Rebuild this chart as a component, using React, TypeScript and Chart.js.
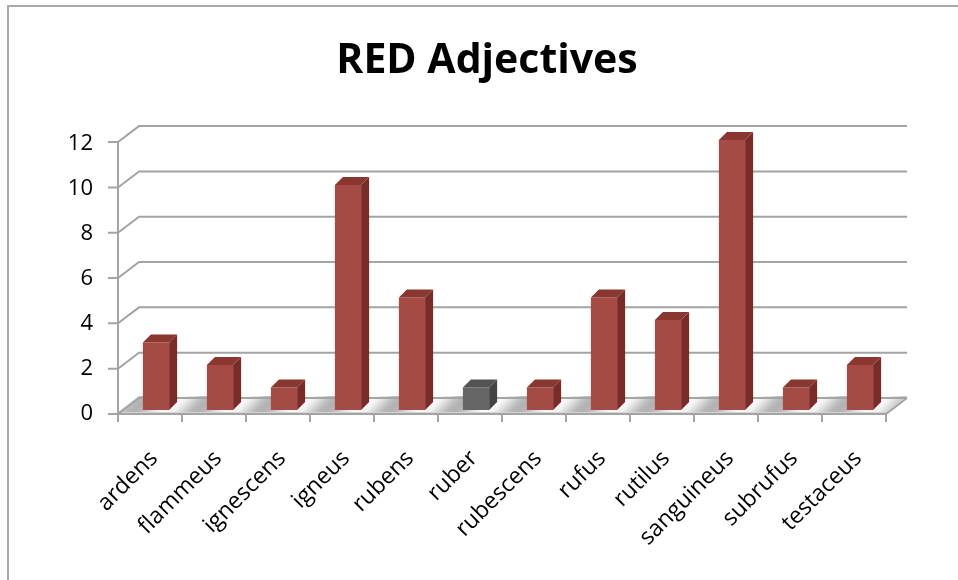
import React, { useEffect, useRef } from "react";
import { Chart, registerables } from "chart.js";

Chart.register(...registerables);

// ---- data ----
const TITLE = "RED Adjectives";
const categories = [
  "ardens", "flammeus", "ignescens", "igneus", "rubens", "ruber",
  "rubescens", "rufus", "rutilus", "sanguineus", "subrufus", "testaceus",
];
const counts = [3, 2, 1, 10, 5, 1, 1, 5, 4, 12, 1, 2];
const yTicks = [0, 2, 4, 6, 8, 10, 12];
const highlighted = "ruber";

// ---- styles / geometry ----
const FRONT = { dx: -6, dy: 4 }; // front plane relative to bar plane
const DEPTH = { dx: 21, dy: -16 }; // depth of walls / floor
const BAR_DEPTH = { dx: 8, dy: -8 };
const FRONT_SCALE = 1.007;
const RED = { front: "#A64A45", side: "#772C29", top: "#8A3631" };
const GRAY = { front: "#666666", side: "#444444", top: "#535353" };
const GRID = "#A4A4A4";
const FONT = '"Open Sans", "DejaVu Sans", sans-serif';

function makeFloorPattern(ctx: CanvasRenderingContext2D) {
  const size = 64;
  const c = document.createElement("canvas");
  c.width = size;
  c.height = size;
  const g = c.getContext("2d")!;
  const img = g.createImageData(size, size);
  for (let py = 0; py < size; py++) {
    for (let px = 0; px < size; px++) {
      const t = ((px + py) % size) / size;
      const k = 0.5 + 0.5 * Math.cos(2 * Math.PI * t);
      const v = Math.round(178 + (252 - 178) * k);
      const i = (py * size + px) * 4;
      img.data[i] = v;
      img.data[i + 1] = v;
      img.data[i + 2] = v;
      img.data[i + 3] = 255;
    }
  }
  g.putImageData(img, 0, 0);
  return ctx.createPattern(c, "repeat");
}

const scenePlugin = {
  id: "scene3d",
  beforeDraw(chart: any) {
    const { ctx, chartArea: a } = chart;
    const xs = chart.scales.x;
    const ys = chart.scales.y;
    const fy = (v: number) =>
      a.bottom + FRONT.dy - (a.bottom - ys.getPixelForValue(v)) * FRONT_SCALE;
    const left = a.left + FRONT.dx;
    const right = a.right + FRONT.dx;

    ctx.save();
    // outer frame
    ctx.fillStyle = "#A9A9A9";
    ctx.fillRect(7, 5, chart.width - 7, 2);
    ctx.fillRect(7, 5, 2, chart.height - 5);

    // title
    ctx.fillStyle = "#000";
    ctx.font = `bold 41px ${FONT}`;
    ctx.textAlign = "center";
    ctx.textBaseline = "middle";
    ctx.fillText(TITLE, 487, 61);

    // floor
    const y0 = fy(0);
    ctx.fillStyle = makeFloorPattern(ctx) as any;
    ctx.beginPath();
    ctx.moveTo(left, y0 - 2);
    ctx.lineTo(left + DEPTH.dx, y0 - 2 + DEPTH.dy);
    ctx.lineTo(right + DEPTH.dx, y0 - 2 + DEPTH.dy);
    ctx.lineTo(right, y0 - 2);
    ctx.closePath();
    ctx.fill();
    ctx.fillStyle = "#D4D4D4";
    ctx.beginPath();
    ctx.moveTo(left, y0 - 2);
    ctx.lineTo(right, y0 - 2);
    ctx.lineTo(right + DEPTH.dx, y0 - 2 + DEPTH.dy);
    ctx.lineTo(right + DEPTH.dx, y0 + DEPTH.dy);
    ctx.lineTo(right, y0);
    ctx.lineTo(left, y0);
    ctx.closePath();
    ctx.fill();

    // gridlines (front tick + diagonal + back wall line)
    ctx.strokeStyle = GRID;
    ctx.lineWidth = 2;
    for (const v of yTicks) {
      const yy = fy(v);
      ctx.beginPath();
      ctx.moveTo(left - 10, yy);
      ctx.lineTo(left, yy);
      ctx.lineTo(left + DEPTH.dx, yy + DEPTH.dy);
      ctx.lineTo(right + DEPTH.dx, yy + DEPTH.dy);
      ctx.stroke();
    }
    // floor outline front + right
    ctx.beginPath();
    ctx.moveTo(left, y0);
    ctx.lineTo(right, y0);
    ctx.lineTo(right + DEPTH.dx, y0 + DEPTH.dy);
    ctx.stroke();

    // vertical axis
    ctx.beginPath();
    ctx.moveTo(left, fy(yTicks[yTicks.length - 1]));
    ctx.lineTo(left, y0);
    ctx.stroke();

    // category tick marks
    for (let i = 0; i <= categories.length; i++) {
      const px = xs.getPixelForValue(i - 0.5) + FRONT.dx;
      ctx.beginPath();
      ctx.moveTo(px, y0);
      ctx.lineTo(px, y0 + 8);
      ctx.stroke();
    }
    ctx.restore();
  },
  afterDatasetsDraw(chart: any) {
    const { ctx } = chart;
    const meta = chart.getDatasetMeta(0);
    ctx.save();
    meta.data.forEach((el: any, i: number) => {
      const { x, y, base, width } = el.getProps(["x", "y", "base", "width"], true);
      const l = x - width / 2;
      const r = x + width / 2;
      const col = categories[i] === highlighted ? GRAY : RED;
      // side face
      ctx.fillStyle = col.side;
      ctx.beginPath();
      ctx.moveTo(r, y);
      ctx.lineTo(r + BAR_DEPTH.dx, y + BAR_DEPTH.dy);
      ctx.lineTo(r + BAR_DEPTH.dx, base + BAR_DEPTH.dy);
      ctx.lineTo(r, base);
      ctx.closePath();
      ctx.fill();
      // top face
      ctx.fillStyle = col.top;
      ctx.beginPath();
      ctx.moveTo(l, y);
      ctx.lineTo(l + BAR_DEPTH.dx, y + BAR_DEPTH.dy);
      ctx.lineTo(r + BAR_DEPTH.dx, y + BAR_DEPTH.dy);
      ctx.lineTo(r, y);
      ctx.closePath();
      ctx.fill();
    });
    ctx.restore();
  },
};

export default function App() {
  const ref = useRef<HTMLCanvasElement | null>(null);

  useEffect(() => {
    if (!ref.current) return;
    const chart = new Chart(ref.current, {
      type: "bar",
      data: {
        labels: categories,
        datasets: [
          {
            label: TITLE,
            data: counts,
            backgroundColor: categories.map((c) =>
              c === highlighted ? GRAY.front : RED.front
            ),
            borderWidth: 0,
            categoryPercentage: 1,
            barPercentage: 0.41,
          },
        ],
      },
      options: {
        responsive: false,
        animation: false,
        layout: { padding: { left: 64, right: 66, top: 140, bottom: 0 } },
        plugins: {
          legend: { display: false },
          tooltip: { enabled: false },
          title: { display: false },
        },
        scales: {
          x: {
            grid: { display: false, drawTicks: false },
            border: { display: false },
            ticks: {
              autoSkip: false,
              minRotation: 45,
              maxRotation: 45,
              padding: 35,
              labelOffset: -2,
              color: "#000",
              font: { family: FONT, size: 23 },
            },
            afterFit: (s: any) => {
              s.height = 170;
            },
          },
          y: {
            min: 0,
            max: 12,
            grid: { display: false, drawTicks: false },
            border: { display: false },
            ticks: {
              stepSize: 2,
              padding: 31,
              labelOffset: 4,
              color: "#000",
              font: { family: FONT, size: 22 },
            },
            afterFit: (s: any) => {
              s.width = 60;
            },
          },
        },
      },
      plugins: [scenePlugin],
    });
    return () => chart.destroy();
  }, []);

  return (
    <div style={{ position: "absolute", left: 0, top: 0 }}>
      <canvas ref={ref} width={958} height={580} />
    </div>
  );
}
